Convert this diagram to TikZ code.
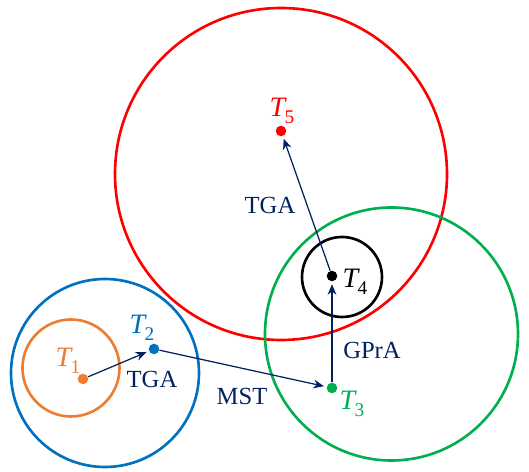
\documentclass[tikz,border=0pt]{standalone}
\usepackage{fontspec}
\setmainfont{Liberation Serif}
\definecolor{tred}{RGB}{255,0,0}
\definecolor{tgreen}{RGB}{0,176,80}
\definecolor{tblue}{RGB}{0,112,192}
\definecolor{torange}{RGB}{237,125,49}
\definecolor{tnavy}{RGB}{0,32,96}
\usetikzlibrary{arrows.meta}

\newcommand{\tname}[1]{{\fontsize{16}{18}\selectfont\itshape T}\kern-0.3pt\raisebox{-4pt}{\fontsize{11}{12}\selectfont #1}}

\begin{document}
\begin{tikzpicture}[
    ring/.style={line width=1.5pt},
    pt/.style={circle,fill,inner sep=0pt,minimum size=6pt},
    lab/.style={font=\fontsize{14}{16}\selectfont},
    link/.style={-{Stealth[length=6pt,width=5pt]},draw=tnavy,line width=0.7pt,shorten >=1.5pt}]
  \useasboundingbox (0,0) rectangle (10.58,9.44);
  % rings
  \draw[ring,tred] (5.62,5.96) circle (3.32);
  \draw[ring,tgreen] (7.83,2.76) circle (2.53);
  \draw[ring,tblue] (2.10,1.98) circle (1.88);
  \draw[ring,torange] (1.42,2.08) circle (0.97);
  \draw[ring,black] (6.84,3.90) circle (0.80);
  % points
  \foreach \n/\c/\x/\y in {1/torange/1.66/1.86, 2/tblue/3.08/2.46, 3/tgreen/6.64/1.68,
                           4/black/6.64/3.92, 5/tred/5.62/6.82} {
    \node[pt,\c] (t\n) at (\x,\y) {};
  }
  % point names
  \node[lab,torange] (n1) at (1.36,2.22) {\tname{1}};
  \node[lab,tblue] (n2) at (2.84,2.88) {\tname{2}};
  \node[lab,tgreen] (n3) at (7.04,1.36) {\tname{3}};
  \node[lab,black] (n4) at (7.10,3.80) {\tname{4}};
  \node[lab,tred] (n5) at (5.64,7.22) {\tname{5}};
  % method names
  \node[lab,tnavy] (m1) at (3.04,1.86) {TGA};
  \node[lab,tnavy] (m2) at (4.84,1.52) {MST};
  \node[lab,tnavy] (m3) at (7.44,2.44) {GPrA};
  \node[lab,tnavy] (m4) at (5.40,5.34) {TGA};
  % links
  \draw[link] (t1) -- (t2);
  \draw[link] (t2) -- (t3);
  \draw[link] (t3) -- (t4);
  \draw[link] (t4) -- (t5);
\end{tikzpicture}
\end{document}
